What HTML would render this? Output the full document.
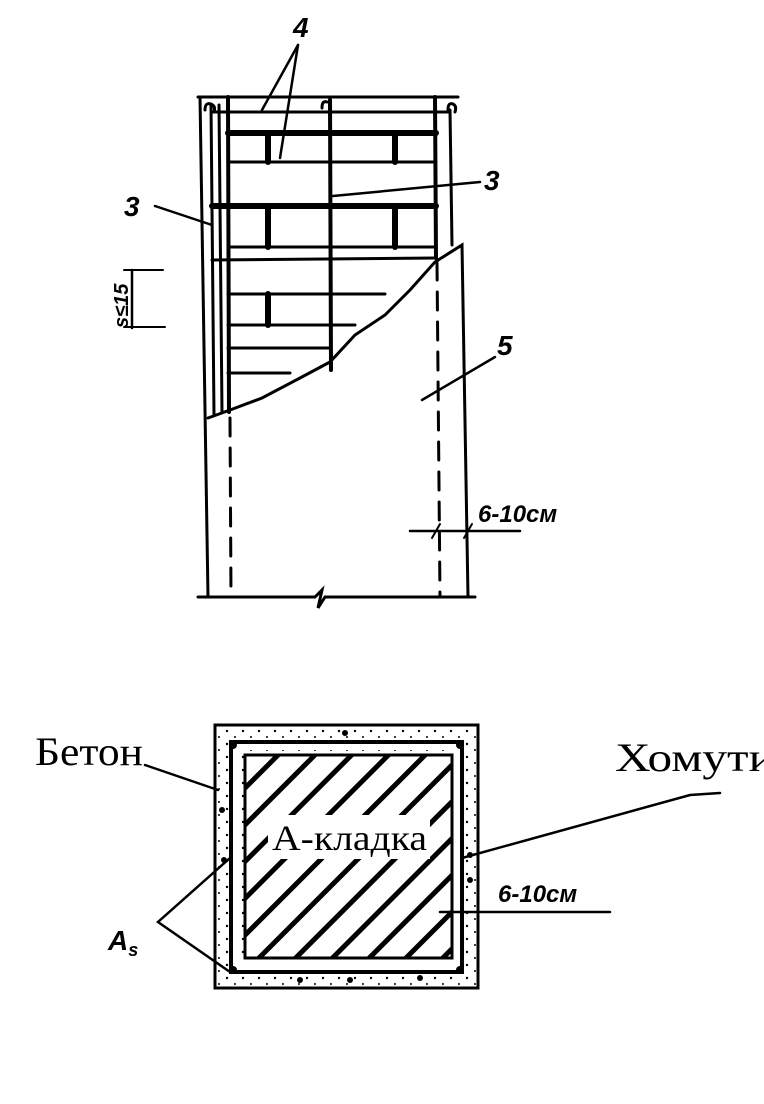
<!DOCTYPE html>
<html><head><meta charset="utf-8"><style>html,body{margin:0;padding:0;background:#fff}svg{display:block}</style></head>
<body>
<svg width="764" height="1104" viewBox="0 0 764 1104" xmlns="http://www.w3.org/2000/svg">
<defs>
<pattern id="h" width="26" height="26" patternUnits="userSpaceOnUse" patternTransform="rotate(45)">
<rect x="0" y="0" width="5" height="26" fill="#000"/>
</pattern>
<pattern id="dots" width="16" height="13" patternUnits="userSpaceOnUse">
<circle cx="3" cy="3" r="1.2" fill="#000"/><circle cx="11" cy="9" r="1" fill="#000"/>
</pattern>
</defs>
<g stroke="#000" fill="none" stroke-linecap="round">
<line x1="198" y1="97" x2="458" y2="97" stroke-width="3"/>
<line x1="200" y1="97" x2="208" y2="597" stroke-width="3"/>
<line x1="211" y1="105" x2="214" y2="415" stroke-width="3"/>
<line x1="219" y1="105" x2="222" y2="412" stroke-width="3"/>
<path d="M205 110 q0 -8 6 -6 q5 2 3 8" stroke-width="3"/>
<path d="M448 110 q0 -8 5 -6 q4 2 2 8" stroke-width="3"/>
<path d="M322 108 q0 -8 5 -6" stroke-width="3"/>
<line x1="228" y1="97" x2="229" y2="412" stroke-width="4"/>
<line x1="435" y1="97" x2="436" y2="258" stroke-width="4"/>
<line x1="450" y1="110" x2="452" y2="245" stroke-width="3"/>
<line x1="330" y1="100" x2="331" y2="370" stroke-width="4"/>
<g stroke-width="3">
<line x1="212" y1="112" x2="450" y2="112"/>
<line x1="228" y1="162" x2="436" y2="162"/>
<line x1="228" y1="247" x2="436" y2="247"/>
<line x1="212" y1="260" x2="436" y2="258"/>
<line x1="228" y1="294" x2="385" y2="294"/>
<line x1="228" y1="325" x2="355" y2="325"/>
<line x1="228" y1="348" x2="330" y2="348"/>
<line x1="228" y1="373" x2="290" y2="373"/>
</g>
<g stroke-width="6">
<line x1="228" y1="133" x2="436" y2="133"/>
<line x1="212" y1="206" x2="436" y2="206"/>
<line x1="268" y1="133" x2="268" y2="162"/>
<line x1="395" y1="133" x2="395" y2="162"/>
<line x1="268" y1="206" x2="268" y2="247"/>
<line x1="395" y1="206" x2="395" y2="247"/>
<line x1="268" y1="294" x2="268" y2="325"/>
</g>
<path d="M208 418 L230 410 L262 398 L300 378 L330 362 L355 335 L385 315 L410 290 L435 262 L462 245 L468 597" stroke-width="3" fill="none"/>
<line x1="230" y1="418" x2="231" y2="597" stroke-width="3" stroke-dasharray="18,12"/>
<line x1="437" y1="262" x2="440" y2="597" stroke-width="3" stroke-dasharray="18,12"/>
<path d="M198 597 L315 597 L322 590 L318 608 L325 597 L475 597" stroke-width="3"/>
<line x1="298" y1="45" x2="262" y2="110" stroke-width="2.5"/>
<line x1="298" y1="45" x2="280" y2="158" stroke-width="2.5"/>
<line x1="155" y1="206" x2="212" y2="225" stroke-width="2.5"/>
<line x1="480" y1="182" x2="333" y2="196" stroke-width="2.5"/>
<line x1="495" y1="357" x2="422" y2="400" stroke-width="2.5"/>
<line x1="132" y1="270" x2="132" y2="328" stroke-width="2.5"/>
<line x1="124" y1="270" x2="163" y2="270" stroke-width="2"/>
<line x1="124" y1="327" x2="165" y2="327" stroke-width="2"/>
<line x1="410" y1="531" x2="520" y2="531" stroke-width="2.5"/>
<line x1="432" y1="538" x2="440" y2="524" stroke-width="2"/>
<line x1="464" y1="538" x2="472" y2="524" stroke-width="2"/>
<rect x="215" y="725" width="263" height="263" fill="url(#dots)" stroke-width="3"/>
<rect x="231" y="742" width="231" height="230" fill="#fff" stroke-width="4"/>
<rect x="240" y="750" width="213" height="212" fill="url(#dots)" stroke="none"/>
<rect x="245" y="755" width="207" height="203" fill="#fff" stroke="none"/>
<rect x="245" y="755" width="207" height="203" fill="url(#h)" stroke-width="3"/>
<g fill="#000" stroke="none">
<circle cx="233" cy="745" r="4"/><circle cx="460" cy="745" r="4"/><circle cx="233" cy="970" r="4"/><circle cx="460" cy="970" r="4"/>
<circle cx="345" cy="733" r="3"/><circle cx="300" cy="980" r="3"/><circle cx="350" cy="980" r="3"/><circle cx="420" cy="978" r="3"/>
<circle cx="222" cy="810" r="3"/><circle cx="224" cy="860" r="3"/><circle cx="470" cy="855" r="3"/><circle cx="470" cy="880" r="3"/>
</g>
<line x1="145" y1="765" x2="218" y2="790" stroke-width="2.5"/>
<path d="M720 793 L690 795 L462 858" stroke-width="2.5"/>
<line x1="440" y1="912" x2="610" y2="912" stroke-width="2.5"/>
<path d="M230 858 L158 922 L230 972" stroke-width="2.5"/>
</g>
<rect x="268" y="815" width="162" height="44" fill="#fff"/>
<g font-family="Liberation Sans, sans-serif" font-style="italic" font-weight="bold" fill="#000">
<text x="293" y="37" font-size="28">4</text>
<text x="124" y="216" font-size="28">3</text>
<text x="484" y="190" font-size="28">3</text>
<text x="497" y="355" font-size="28">5</text>
<text x="478" y="522" font-size="24">6-10см</text>
<text x="498" y="902" font-size="24">6-10см</text>
<text x="108" y="950" font-size="28">A<tspan font-size="18" dy="6">s</tspan></text>
<text transform="translate(128,328) rotate(-90)" font-size="20">s≤15</text>
</g>
<g font-family="Liberation Serif, serif" fill="#000">
<text x="35" y="765" font-size="40" textLength="108" lengthAdjust="spacingAndGlyphs">Бетон</text>
<text x="615" y="771" font-size="40" textLength="160" lengthAdjust="spacingAndGlyphs">Хомути</text>
<text x="272" y="850" font-size="36" textLength="155" lengthAdjust="spacingAndGlyphs">А-кладка</text>
</g>
</svg>
</body></html>
